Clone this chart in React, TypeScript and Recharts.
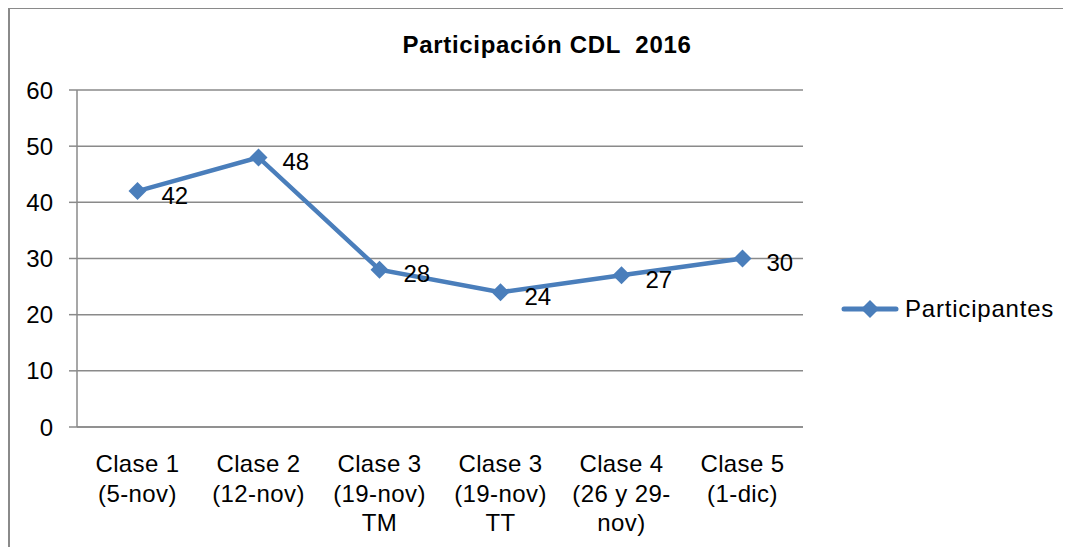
import { LineChart, Line, XAxis, YAxis, CartesianGrid, Legend, LabelList } from 'recharts'

const categories = [
  'Clase 1\n(5-nov)',
  'Clase 2\n(12-nov)',
  'Clase 3\n(19-nov)\nTM',
  'Clase 3\n(19-nov)\nTT',
  'Clase 4\n(26 y 29-\nnov)',
  'Clase 5\n(1-dic)',
]
const participantes = [42, 48, 28, 24, 27, 30]
const yTicks = [0, 10, 20, 30, 40, 50, 60]
const edgeTicks = [0, 1, 2, 3, 4, 5, 6]

const BLUE = '#4A7EBB'
const GRID = '#8a8a8a'
const FONT = '"Liberation Sans", Arial, sans-serif'

const data = categories.map((clase, i) => ({ clase, participantes: participantes[i] }))

function diamond(cx: number, cy: number, r: number) {
  return `M${cx},${cy - r}L${cx + r},${cy}L${cx},${cy + r}L${cx - r},${cy}Z`
}

function Dot(props: any) {
  const { cx, cy, index } = props
  return <path key={`dot-${index}`} d={diamond(cx, cy, 9)} fill={BLUE} />
}

function XTick(props: any) {
  const { x, y, payload } = props
  const lines = String(payload.value).split('\n')
  return (
    <text x={x} y={y} textAnchor="middle" fontSize={24} fill="#000" fontFamily={FONT} letterSpacing={0.4}>
      {lines.map((l, i) => (
        <tspan key={i} x={x} dy={i === 0 ? 37 : 29.5}>{l}</tspan>
      ))}
    </text>
  )
}

function ValueLabel(props: any) {
  const { x, y, value, index } = props
  return (
    <text key={`lbl-${index}`} x={x + 24} y={y + 4} dominantBaseline="central" fontSize={24} fill="#000" fontFamily={FONT}>
      {value}
    </text>
  )
}

function LegendContent() {
  return (
    <div style={{ display: 'flex', alignItems: 'center', whiteSpace: 'nowrap' }}>
      <svg width={58} height={24}>
        <line x1={3} x2={55} y1={12} y2={12} stroke={BLUE} strokeWidth={5} strokeLinecap="round" />
        <path d={diamond(29, 12, 9)} fill={BLUE} />
      </svg>
      <span style={{ fontSize: 24, marginLeft: 6, fontFamily: FONT, letterSpacing: 0.8 }}>Participantes</span>
    </div>
  )
}

export default function App() {
  return (
    <div style={{ position: 'relative', width: 1063, height: 540, marginTop: -1, overflow: 'hidden', fontFamily: FONT }}>
      <div style={{ position: 'absolute', left: 0, top: 0, width: 1200, height: 700, borderTop: `2px solid ${GRID}`, borderLeft: `2px solid ${GRID}` }} />
      <div style={{ position: 'absolute', left: 539, top: 24, transform: 'translateX(-50%)', fontSize: 24, fontWeight: 'bold', whiteSpace: 'pre', letterSpacing: 0.7 }}>
        {'Participación CDL  2016'}
      </div>
      <LineChart width={1063} height={540} data={data} margin={{ top: 83, right: 268, bottom: 0, left: 0 }}>
        <CartesianGrid vertical={false} stroke={GRID} strokeWidth={1.5} />
        <XAxis
          xAxisId="edge"
          type="number"
          domain={[0, categories.length]}
          ticks={edgeTicks}
          allowDataOverflow
          height={0}
          axisLine={false}
          tickSize={6}
          tickLine={{ stroke: GRID, strokeWidth: 1.5 }}
          tick={() => <g />}
        />
        <XAxis
          dataKey="clase"
          scale="band"
          height={120}
          interval={0}
          axisLine={{ stroke: GRID, strokeWidth: 1.5 }}
          tickLine={false}
          tick={<XTick />}
        />
        <YAxis
          domain={[0, 60]}
          ticks={yTicks}
          width={69}
          interval={0}
          tickSize={8}
          tickMargin={16}
          axisLine={{ stroke: GRID, strokeWidth: 1.5 }}
          tickLine={{ stroke: GRID, strokeWidth: 1.5 }}
          tick={{ fontSize: 24, fill: '#000', fontFamily: FONT }}
        />
        <Legend
          verticalAlign="top"
          align="left"
          layout="horizontal"
          content={<LegendContent />}
          wrapperStyle={{ left: 833, top: 288, width: 'auto', height: 0 }}
        />
        <Line
          type="linear"
          dataKey="participantes"
          name="Participantes"
          stroke={BLUE}
          strokeWidth={4.5}
          dot={<Dot />}
          activeDot={false}
          isAnimationActive={false}
        >
          <LabelList dataKey="participantes" content={<ValueLabel />} />
        </Line>
      </LineChart>
    </div>
  )
}
